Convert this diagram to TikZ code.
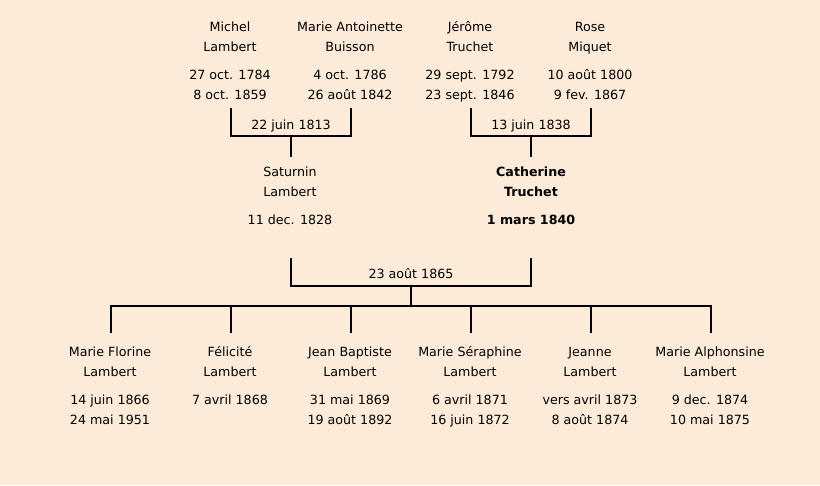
\documentclass[tikz,border=0pt]{standalone}
\usepackage{fontspec}
\setmainfont{DejaVu Sans}
\usepackage{xcolor}
\usetikzlibrary{positioning,calc}
\definecolor{paper}{HTML}{FCEBD8}

\begin{document}
\begin{tikzpicture}[
    x=0.75pt, y=-0.75pt,
    person/.style = {align=center, anchor=base, inner sep=0pt,
      font=\fontsize{9.5}{15}\selectfont},
    wedding/.style = {anchor=base, inner sep=0pt, font=\fontsize{9.5}{15}\selectfont},
    link/.style = {line width=1.5pt, black}
  ]
  \fill[paper] (0,0) rectangle (820,485);
  \useasboundingbox (0,0) rectangle (820,485);

  % grands-parents
  \node[person] (michel) at (230,99.5) {Michel\\Lambert\\[6pt]27 oct. 1784\\8 oct. 1859};
  \node[person] (antoinette) at (350,99.5) {Marie Antoinette\\Buisson\\[6pt]4 oct. 1786\\26 août 1842};
  \node[person] (jerome) at (470,99.5) {Jérôme\\Truchet\\[6pt]29 sept. 1792\\23 sept. 1846};
  \node[person] (rose) at (590,99.5) {Rose\\Miquet\\[6pt]10 août 1800\\9 fev. 1867};

  % parents
  \node[person] (saturnin) at (290,224.5) {Saturnin\\Lambert\\[6pt]11 dec. 1828};
  \node[person, font=\fontsize{9.5}{15}\selectfont\bfseries] (catherine) at (531,224.5)
    {Catherine\\Truchet\\[6pt]1 mars 1840};

  % enfants
  \node[person] (florine) at (110,424.5) {Marie Florine\\Lambert\\[6pt]14 juin 1866\\24 mai 1951};
  \node[person] (felicite) at (230,404.5) {Félicité\\Lambert\\[6pt]7 avril 1868};
  \node[person] (baptiste) at (350,424.5) {Jean Baptiste\\Lambert\\[6pt]31 mai 1869\\19 août 1892};
  \node[person] (seraphine) at (470,424.5) {Marie Séraphine\\Lambert\\[6pt]6 avril 1871\\16 juin 1872};
  \node[person] (jeanne) at (590,424.5) {Jeanne\\Lambert\\[6pt]vers avril 1873\\8 août 1874};
  \node[person] (alphonsine) at (710,424.5) {Marie Alphonsine\\Lambert\\[6pt]9 dec. 1874\\10 mai 1875};

  % mariages
  \coordinate (m1) at (291,136);
  \coordinate (m2) at (531,136);
  \coordinate (m3) at (411,286);
  \coordinate (bar) at (411,306);
  \node[wedding] (w1) at (291,129.5) {22 juin 1813};
  \node[wedding] (w2) at (531,129.5) {13 juin 1838};
  \node[wedding] (w3) at (411,278.5) {23 août 1865};

  \draw[link] ($(michel.base)+(1,8.5)$) |- (m1) -| ($(antoinette.base)+(1,8.5)$);
  \draw[link] (m1) -- ($(saturnin.base)+(1,-67.5)$);
  \draw[link] ($(jerome.base)+(1,8.5)$) |- (m2) -| ($(rose.base)+(1,8.5)$);
  \draw[link] (m2) -- ($(catherine.base)+(0,-67.5)$);
  \draw[link] ($(saturnin.base)+(1,33.5)$) |- (m3) -| ($(catherine.base)+(0,33.5)$);
  \draw[link] (m3) -- (bar);
  \foreach \c in {florine, felicite, baptiste, seraphine, jeanne, alphonsine}
    \draw[link] (bar) -| ($(\c.base |- bar)+(1,27)$);
\end{tikzpicture}
\end{document}
